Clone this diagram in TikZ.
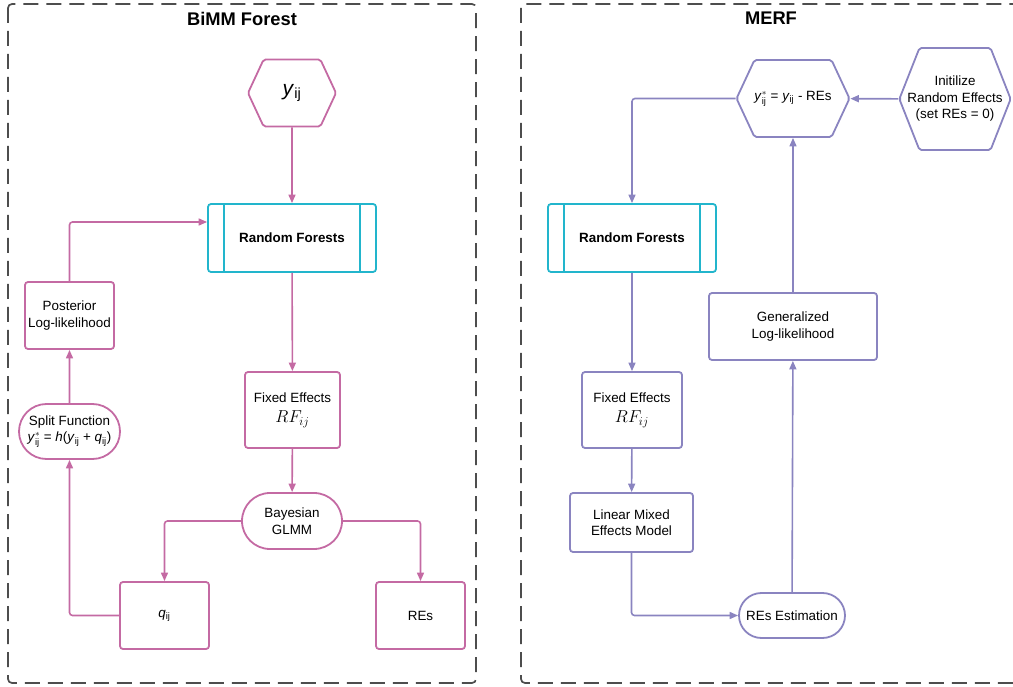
\documentclass[tikz,border=0pt]{standalone}
\usepackage{fontspec}
\setmainfont{Liberation Sans}
\usepackage{tikz}
\usetikzlibrary{positioning, arrows.meta, shapes.symbols, shapes.misc, calc}
\definecolor{bimm}{HTML}{C46AA3}
\definecolor{merf}{HTML}{8A84C0}
\definecolor{rfcyan}{HTML}{22B5CC}
\definecolor{frame}{HTML}{4D4D4D}
\newcommand{\lbl}{\fontsize{13.4}{16.5}\selectfont}
\newcommand{\ijsub}{$_{\mathrm{ij}}$}
\tikzset{panel/.style={draw=frame, line width=1.7pt, dash pattern=on 15pt off 8pt, rounded corners=4pt},
ptitle/.style={font=\fontsize{18.3}{20}\selectfont\bfseries},
box/.style={draw, rounded corners=3pt, align=center, font=\lbl, line width=1.8pt, inner sep=0pt},
pill/.style={draw, rounded rectangle, align=center, font=\lbl, line width=1.8pt, inner sep=0pt},
hexa/.style={draw, signal, signal to=east and west, signal pointer angle=130, rounded corners=2pt, align=center, font=\lbl, line width=1.8pt, inner sep=0pt},
rfbox/.style={box, draw=rfcyan, font=\lbl\bfseries, minimum width=168pt, minimum height=68pt},
flow/.style={-{Triangle[length=8.5pt,width=7pt]}, line width=1.6pt, rounded corners=3pt}}

\begin{document}
\begin{tikzpicture}[x=1pt, y=-1pt]
  \useasboundingbox (0,0) rectangle (1013,687);
  % panels
  \draw[panel] (8,4) rectangle (476,683);
  \draw[panel] (521,4) rectangle (1030,683);
  \node[ptitle] (tl) at (242,18.5) {BiMM Forest};
  \node[ptitle] (tr) at (771,18.5) {MERF};

  % BiMM Forest
  \begin{scope}[every node/.append style={draw=bimm}]
  \node[hexa, minimum width=88pt, minimum height=67pt] (yl) at (292,93) {\fontsize{21}{24}\selectfont\textit{y}\ijsub};
  \node[rfbox, draw=rfcyan] (rfl) at (292,238) {Random Forests};
  \node[box, minimum width=89pt, minimum height=67pt] (post) at (69.5,315.5) {Posterior\\Log-likelihood};
  \node[pill, minimum width=101pt, minimum height=55pt] (split) at (69.5,431.5) {Split Function\\\textit{y}$^{*}_{\mathrm{ij}}$ = \textit{h}(\textit{y}\ijsub{} + \textit{q}\ijsub)};
  \node[box, minimum width=95pt, minimum height=76pt] (fixl) at (292.5,410) {Fixed Effects\\[4pt]{\fontsize{18}{20}\selectfont$RF_{ij}$}};
  \node[pill, minimum width=100pt, minimum height=56pt] (bay) at (292,521) {Bayesian\\GLMM};
  \node[box, minimum width=89pt, minimum height=67pt] (q) at (164.5,615.5) {\textit{q}\ijsub};
  \node[box, minimum width=89pt, minimum height=67pt] (res) at (420.5,615.5) {REs};
  \end{scope}
  \draw[rfcyan, line width=1.8pt] ([xshift=17pt]rfl.north west) -- ([xshift=17pt]rfl.south west);
  \draw[rfcyan, line width=1.8pt] ([xshift=-17pt]rfl.north east) -- ([xshift=-17pt]rfl.south east);
  \begin{scope}[bimm]
  \draw[flow] (yl) -- (rfl);
  \draw[flow] (post.north) |- ([yshift=16pt]rfl.west);
  \draw[flow] (split) -- (post);
  \draw[flow] (rfl) -- (fixl);
  \draw[flow] (fixl) -- (bay);
  \draw[flow] (bay.west) -| (q.north);
  \draw[flow] (bay.east) -| (res.north);
  \draw[flow] (q.west) -| (split.south);
  \end{scope}

  % MERF
  \begin{scope}[every node/.append style={draw=merf}]
  \node[hexa, minimum width=110pt, minimum height=77pt] (ystar) at (793,98.5) {\textit{y}$^{*}_{\mathrm{ij}}$ = \textit{y}\ijsub{} - REs};
  \node[hexa, signal pointer angle=137, inner xsep=-12pt, minimum height=102pt] (init) at (955,99) {Initilize\\Random Effects\\(set REs = 0)};
  \node[rfbox, draw=rfcyan] (rfr) at (632,238) {Random Forests};
  \node[box, minimum width=168pt, minimum height=67pt] (gen) at (793,326.5) {Generalized\\Log-likelihood};
  \node[box, minimum width=100pt, minimum height=76pt] (fixr) at (632,410) {Fixed Effects\\[4pt]{\fontsize{18}{20}\selectfont$RF_{ij}$}};
  \node[box, minimum width=123pt, minimum height=59pt] (lmm) at (631.5,522.5) {Linear Mixed\\Effects Model};
  \node[pill, minimum width=106pt, minimum height=45pt] (rest) at (792,615.5) {REs Estimation};
  \end{scope}
  \draw[rfcyan, line width=1.8pt] ([xshift=17pt]rfr.north west) -- ([xshift=17pt]rfr.south west);
  \draw[rfcyan, line width=1.8pt] ([xshift=-17pt]rfr.north east) -- ([xshift=-17pt]rfr.south east);
  \begin{scope}[merf]
  \draw[flow] (init) -- (ystar);
  \draw[flow] (ystar.west) -| (rfr.north);
  \draw[flow] (rfr) -- (fixr);
  \draw[flow] (fixr) -- (lmm);
  \draw[flow] (lmm.south) |- (rest.west);
  \draw[flow] (rest) -- (gen);
  \draw[flow] (gen) -- (ystar);
  \end{scope}
\end{tikzpicture}
\end{document}
